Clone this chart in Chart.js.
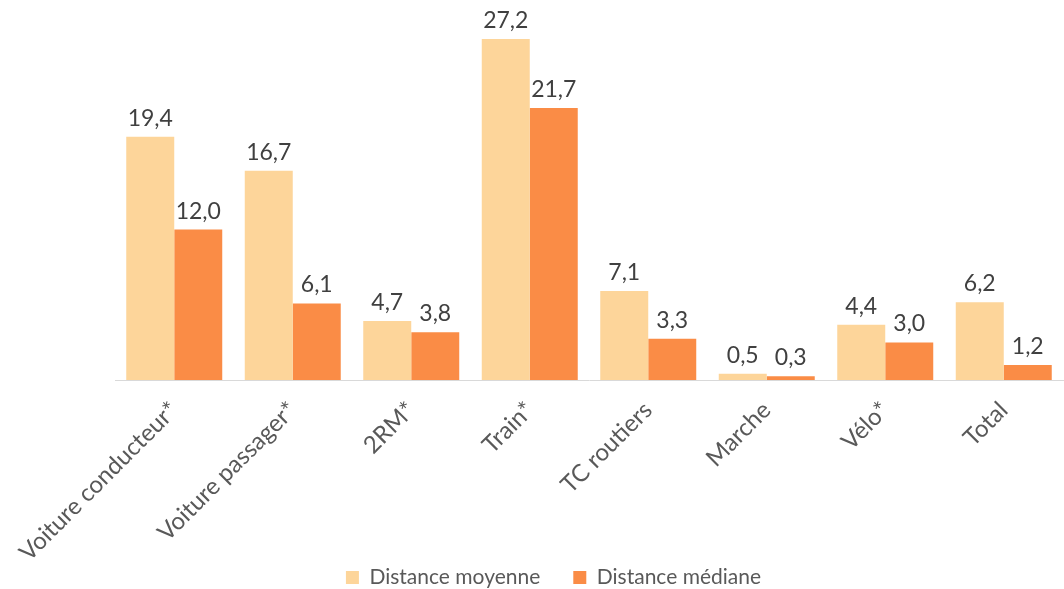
<!DOCTYPE html>
<html>
<head>
<meta charset="utf-8">
<script src="https://cdn.jsdelivr.net/npm/chart.js@4.4.0/dist/chart.umd.min.js"></script>
<style>
  html, body { margin: 0; padding: 0; background: #ffffff; }
  #wrap { width: 1064px; height: 589px; position: relative; }
</style>
</head>
<body>
<div id="wrap"><canvas id="chart"></canvas></div>
<script>
// Mode categories and distances (km)
const categories = ["Voiture conducteur*", "Voiture passager*", "2RM*", "Train*", "TC routiers", "Marche", "Vélo*", "Total"];
const distanceMoyenne = [19.4, 16.7, 4.7, 27.2, 7.1, 0.5, 4.4, 6.2];
const distanceMediane = [12.0, 6.1, 3.8, 21.7, 3.3, 0.3, 3.0, 1.2];
const seriesNames = ["Distance moyenne", "Distance médiane"];

const FONT = "Lato, 'Open Sans', sans-serif";
const LEGEND_GAP = 33;
const AXIS_Y = 380; // pixel row of the category axis line

// Writes each bar's value above it, with a decimal comma
const valueLabels = {
  id: 'valueLabels',
  afterDatasetsDraw(chart) {
    const ctx = chart.ctx;
    ctx.save();
    ctx.font = "23px " + FONT;
    ctx.fillStyle = "#404040";
    ctx.textAlign = "center";
    ctx.textBaseline = "bottom";
    chart.data.datasets.forEach((ds, i) => {
      chart.getDatasetMeta(i).data.forEach((bar, j) => {
        const txt = ds.data[j].toFixed(1).replace('.', ',');
        ctx.fillText(txt, bar.x, bar.y - 7);
      });
    });
    ctx.restore();
  }
};

// The legend keeps wide gaps between its items, but sits near the bottom edge
const legendPlacement = {
  id: 'legendPlacement',
  afterLayout(chart) {
    const lg = chart.legend;
    if (!lg) return;
    const h = lg.height;
    lg.top = chart.height - 9 - LEGEND_GAP - 13;
    lg.bottom = lg.top + h;
  }
};

new Chart(document.getElementById('chart'), {
  type: 'bar',
  data: {
    labels: categories,
    datasets: [
      { label: seriesNames[0], data: distanceMoyenne, backgroundColor: "#FDD59A" },
      { label: seriesNames[1], data: distanceMediane, backgroundColor: "#FA8C46" }
    ]
  },
  options: {
    responsive: true,
    maintainAspectRatio: false,
    animation: false,
    layout: { padding: { left: 44, right: 1, top: 4, bottom: 0 } },
    datasets: { bar: { categoryPercentage: 0.81, barPercentage: 1.0 } },
    plugins: {
      legend: {
        position: 'bottom',
        labels: {
          font: { family: FONT, size: 21 },
          color: "#595959",
          boxWidth: 13,
          boxHeight: 13,
          padding: LEGEND_GAP
        }
      },
      tooltip: { enabled: false }
    },
    scales: {
      x: {
        grid: { display: false, drawTicks: false },
        border: { display: true, color: "#D9D9D9", width: 1 },
        ticks: {
          font: { family: FONT, size: 24 },
          color: "#595959",
          minRotation: 45,
          maxRotation: 45,
          padding: 16
        },
        afterFit(scale) {
          scale.paddingLeft = 115;
          scale.paddingRight = 0;
          const lgH = scale.chart.legend ? scale.chart.legend.height : 91;
          scale.height = scale.chart.height - AXIS_Y - lgH;
          // long rotated labels run past the axis box; let them draw in full
          scale._computeLabelArea = () => undefined;
        }
      },
      y: {
        display: false,
        min: 0,
        max: 30
      }
    }
  },
  plugins: [valueLabels, legendPlacement]
});
</script>
</body>
</html>
